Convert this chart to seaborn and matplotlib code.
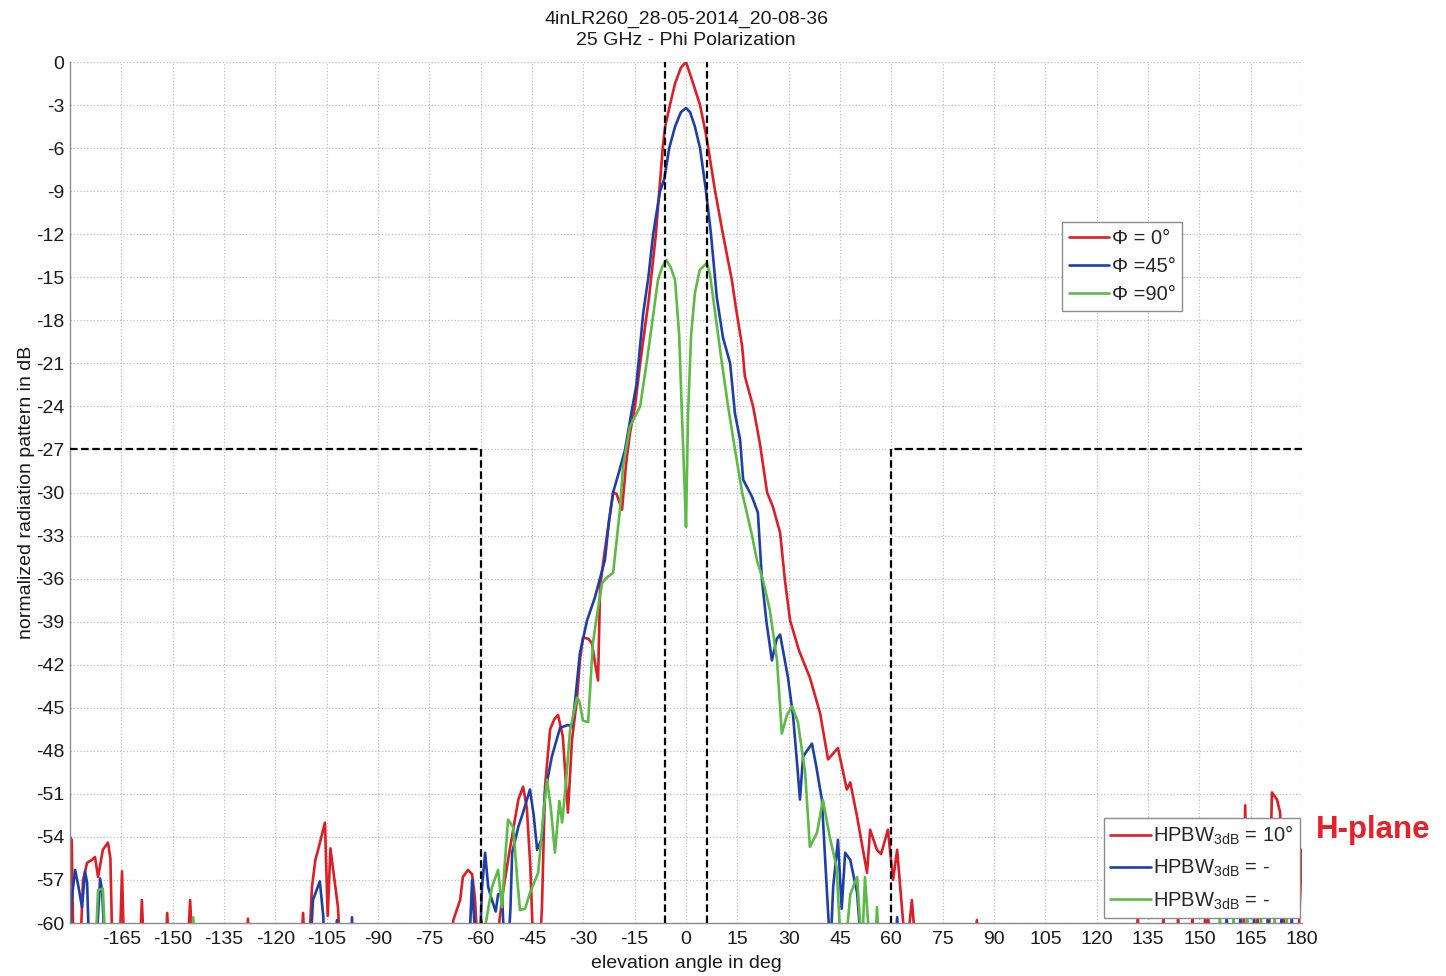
import matplotlib
matplotlib.use("Agg")
import matplotlib.pyplot as plt
import seaborn as sns
from matplotlib.lines import Line2D

# ---------------- data ----------------
title_text = "4inLR260_28-05-2014_20-08-36\n25 GHz - Phi Polarization"
x_label = "elevation angle in deg"
y_label = "normalized radiation pattern in dB"

xtick_vals = list(range(-165, 181, 15))
ytick_vals = list(range(0, -61, -3))

series_labels = ["\u03a6 = 0\u00b0", "\u03a6 =45\u00b0", "\u03a6 =90\u00b0"]
hpbw_labels = ["HPBW$_{3dB}$ = 10\u00b0", "HPBW$_{3dB}$ = -", "HPBW$_{3dB}$ = -"]
plane_text = "H-plane"

# Phi = 0 deg (red)
red_x = [-180, -179.5, -179.0, -177.0, -176.2, -175.0, -173.6, -172.7, -171.8, -170.4,
         -168.9, -168.2, -167.6, -165.5, -164.8, -164.2, -159.6, -159.0, -158.4, -152.1,
         -151.6, -151.1, -145.6, -144.9, -144.2, -128.6, -128.0, -127.4, -112.5, -111.9,
         -111.3, -110.2, -109.3, -108.3, -107.5, -105.5, -104.7, -103.9, -103.0, -101.7,
         -101.0, -68.8, -68.0, -66.0, -65.2, -63.7, -62.5, -61.7, -60.8, -59.8,
         -58.6, -55.5, -54.5, -53.5, -52.0, -50.5, -49.0, -47.6, -46.5, -45.5,
         -44.6, -42.8, -42.1, -41.2, -39.7, -38.5, -37.4, -36.0, -34.5, -33.3,
         -31.9, -31.0, -30.1, -28.5, -27.5, -26.5, -25.7, -25.1, -24.0, -22.5,
         -21.3, -20.3, -18.7, -17.5, -16.4, -14.9, -13.4, -12.0, -10.8, -8.8,
         -7.8, -6.8, -6.1, -4.7, -3.2, -1.5, 0.0, 2.1, 4.1, 5.8,
         6.5, 8.5, 10.8, 13.4, 14.5, 16.4, 17.2, 19.6, 21.6, 23.7,
         25.4, 27.5, 28.9, 30.4, 33.0, 36.2, 39.2, 41.5, 44.4, 47.0,
         48.0, 50.0, 52.9, 53.8, 55.8, 57.0, 59.0, 60.5, 61.7, 63.4,
         64.5, 66.0, 67.2, 84.4, 85.0, 85.6, 131.5, 132.0, 132.5, 139.0,
         139.5, 140.0, 143.3, 143.8, 144.3, 147.5, 148.0, 148.5, 151.3, 151.7,
         152.1, 152.6, 153.0, 162.8, 163.4, 164.0, 166.5, 167.0, 167.5, 170.3,
         171.2, 172.7, 173.6, 175.0, 178.8, 180.0]
red_y = [-54.0, -54.2, -62, -62, -57.0, -55.8, -55.6, -55.4, -56.8, -54.9,
         -54.4, -55.5, -62, -62, -56.4, -62, -62, -58.4, -62, -62,
         -59.3, -62, -62, -58.4, -62, -62, -59.7, -62, -62, -59.3,
         -62, -62, -57.5, -55.6, -54.9, -53.0, -59.5, -54.8, -56.5, -58.9,
         -62, -62, -59.8, -58.4, -56.8, -56.3, -56.6, -58.2, -62, -59.8,
         -62, -62, -59.8, -57.9, -55.6, -53.5, -51.4, -50.5, -52.0, -56.0,
         -62, -62, -59.0, -50.5, -46.5, -45.8, -45.5, -47.0, -52.3, -47.2,
         -44.5, -41.7, -40.1, -40.2, -40.5, -42.0, -43.1, -36.6, -34.5, -32.0,
         -30.0, -30.1, -31.2, -28.0, -25.9, -24.0, -21.0, -18.5, -16.4, -12.0,
         -9.0, -6.0, -4.5, -3.0, -1.5, -0.4, 0.0, -1.5, -3.0, -5.0,
         -6.0, -9.0, -12.0, -15.2, -17.0, -19.8, -21.9, -24.0, -26.6, -30.0,
         -31.0, -32.8, -36.1, -38.9, -41.0, -42.9, -45.4, -48.6, -47.8, -50.7,
         -50.2, -52.6, -56.5, -53.5, -54.9, -55.2, -53.5, -57.0, -54.9, -59.8,
         -62, -58.4, -62, -62, -59.8, -62, -62, -59.5, -62, -62,
         -59.5, -62, -62, -59.5, -62, -62, -59.5, -62, -62, -59.5,
         -62, -59.5, -62, -62, -51.8, -62, -62, -59.5, -62, -62,
         -50.9, -51.4, -52.3, -62, -62, -54.9]

# Phi = 45 deg (blue)
blue_x = [-180, -179.6, -178.5, -177.5, -176.5, -175.6, -175.0, -174.4, -172.4, -171.2,
          -170.6, -169.8, -109.8, -109.0, -107.0, -106.0, -105.6, -102.5, -102.0, -101.5,
          -98.0, -97.6, -97.2, -63.4, -62.5, -62.2, -61.3, -60.3, -59.6, -58.7,
          -57.8, -56.7, -55.6, -54.9, -53.8, -53.0, -52.0, -51.3, -50.8, -49.0,
          -47.6, -45.6, -44.5, -43.5, -42.1, -41.2, -39.2, -36.8, -34.5, -33.3,
          -32.4, -31.0, -28.9, -26.6, -23.7, -22.5, -21.3, -19.5, -17.8, -16.0,
          -14.5, -13.5, -12.5, -11.0, -9.6, -7.6, -6.4, -4.9, -3.2, -1.5,
          0.0, 1.2, 2.6, 4.1, 5.8, 7.3, 9.0, 10.8, 12.9, 14.3,
          15.8, 16.7, 19.3, 21.0, 22.2, 23.5, 25.1, 26.5, 27.5, 29.8,
          31.3, 32.5, 33.3, 34.2, 36.8, 38.0, 39.7, 41.2, 42.2, 43.0,
          44.4, 45.5, 46.5, 48.0, 50.0, 51.3, 61.1, 61.7, 62.3, 157.6,
          158.0, 158.4, 161.6, 162.0, 162.4, 165.6, 166.0, 166.4, 169.6, 170.0,
          170.4, 173.6, 174.0, 174.4, 176.6, 177.0, 177.4, 180.0]
blue_y = [-62, -58.5, -56.3, -57.5, -58.9, -56.4, -57.2, -62, -62, -56.9,
          -57.8, -62, -62, -58.4, -57.1, -59.5, -62, -62, -59.8, -62,
          -62, -59.6, -62, -62, -57.0, -58.6, -62, -62, -57.5, -55.1,
          -57.5, -58.4, -59.2, -58.0, -57.9, -62, -62, -59.0, -55.1, -53.3,
          -52.3, -50.7, -52.5, -54.9, -54.1, -50.9, -48.4, -46.4, -46.2, -46.3,
          -44.5, -41.2, -38.9, -37.3, -34.7, -32.0, -30.0, -28.5, -27.0, -24.5,
          -22.5, -20.0, -17.5, -15.0, -12.0, -9.0, -8.2, -6.0, -4.5, -3.5,
          -3.2, -3.5, -4.5, -6.0, -8.9, -12.0, -16.4, -19.2, -21.0, -24.5,
          -26.3, -29.1, -30.3, -31.4, -36.1, -39.0, -41.7, -40.2, -39.9, -42.9,
          -45.6, -49.0, -51.4, -48.4, -47.5, -49.0, -51.4, -57.9, -62, -57.5,
          -54.2, -59.0, -55.1, -55.6, -57.9, -62, -62, -59.6, -62, -62,
          -59.5, -62, -62, -59.5, -62, -62, -59.5, -62, -62, -59.5,
          -62, -62, -59.5, -62, -62, -59.5, -62, -62]

# Phi = 90 deg (green)
green_x = [-180, -172.6, -171.8, -170.4, -169.6, -144.5, -144.0, -143.5, -59.6, -58.5,
           -56.7, -54.9, -53.8, -53.0, -52.0, -50.5, -49.3, -48.5, -47.0, -45.6,
           -43.2, -41.5, -40.6, -39.5, -38.3, -37.0, -36.2, -35.0, -33.9, -31.9,
           -31.2, -30.1, -28.6, -27.2, -26.0, -24.5, -23.0, -21.3, -19.3, -18.4,
           -16.4, -13.4, -11.4, -8.2, -7.0, -5.8, -4.5, -3.2, -2.0, -1.2,
           -0.5, 0.0, 0.6, 1.5, 2.6, 4.0, 6.1, 7.0, 7.9, 10.5,
           12.3, 14.3, 16.4, 19.3, 20.7, 22.5, 24.5, 26.6, 28.0, 29.5,
           31.0, 32.7, 34.8, 36.2, 38.3, 40.0, 42.0, 44.0, 45.3, 46.5,
           48.0, 50.0, 51.4, 52.3, 53.8, 55.3, 55.8, 56.5, 155.6, 156.0,
           156.4, 159.6, 160.0, 160.4, 163.6, 164.0, 164.4, 167.6, 168.0, 168.4,
           171.6, 172.0, 172.4, 175.1, 175.5, 175.9, 180.0]
green_y = [-62, -62, -57.7, -57.6, -62, -62, -59.6, -62, -62, -60.0,
           -57.5, -56.3, -58.9, -56.0, -52.8, -53.3, -57.0, -59.1, -59.0, -57.9,
           -56.5, -52.0, -50.0, -52.0, -55.1, -51.5, -53.0, -50.0, -46.6, -44.3,
           -44.5, -45.9, -46.0, -40.5, -38.5, -36.3, -35.9, -35.6, -31.2, -28.2,
           -25.4, -24.0, -20.8, -15.2, -14.3, -13.8, -14.3, -15.2, -19.0, -24.5,
           -29.0, -32.4, -24.5, -19.0, -16.1, -14.5, -14.0, -14.8, -16.4, -21.0,
           -24.0, -27.0, -30.0, -33.0, -34.7, -36.1, -38.2, -41.7, -46.8, -45.5,
           -44.9, -46.0, -49.5, -54.7, -53.7, -51.4, -54.0, -56.1, -62, -62,
           -58.0, -56.8, -62, -56.8, -62, -62, -58.9, -62, -62, -59.5,
           -62, -62, -59.5, -62, -62, -59.5, -62, -62, -59.5, -62,
           -62, -59.5, -62, -62, -59.5, -62, -62]

# spectrum mask (dashed black)
mask_left_x = [-180, -60, -60]
mask_left_y = [-27, -27, -60]
mask_right_x = [180, 60, 60]
mask_right_y = [-27, -27, -60]
beam_marks_x = [-6, 6]

# ---------------- style ----------------
RED = "#dc1f26"
BLUE = "#1f3fa8"
GREEN = "#5cbb46"
GREY = "#8c8c8c"

sns.set_theme(style="white")
plt.rcParams["font.family"] = ["Liberation Sans", "DejaVu Sans"]
plt.rcParams["mathtext.default"] = "regular"
plt.rcParams["axes.unicode_minus"] = False

fig = plt.figure(figsize=(14.46, 9.76), dpi=100)
ax = fig.add_axes([0.04841, 0.0543, 0.85201, 0.88217])

ax.grid(True, linestyle=":", color="#bcbcbc", linewidth=0.9)
ax.set_axisbelow(True)

LW = 1.9
for xs, ys, c in [(red_x, red_y, RED), (blue_x, blue_y, BLUE), (green_x, green_y, GREEN)]:
    sns.lineplot(x=xs, y=ys, ax=ax, color=c, linewidth=LW,
                 estimator=None, sort=False, legend=False)

dash = (0, (3.4, 1.6))
ax.plot(mask_left_x, mask_left_y, color="black", linestyle=dash, linewidth=1.6, zorder=4)
ax.plot(mask_right_x, mask_right_y, color="black", linestyle=dash, linewidth=1.6, zorder=4)
ax.vlines(beam_marks_x, -60, 0, colors="black", linestyles=dash, linewidth=1.6, zorder=4)

ax.set_xlim(-180, 180)
ax.set_ylim(-60, 0)
ax.set_xticks(xtick_vals)
ax.set_xticklabels([str(v) for v in xtick_vals])
ax.set_yticks(ytick_vals)
ax.set_yticklabels([str(v) for v in ytick_vals])
ax.tick_params(axis="both", direction="in", length=5, width=1, color=GREY,
               labelsize=14, labelcolor="#1a1a1a")
ax.tick_params(axis="x", pad=6)
ax.tick_params(axis="y", pad=4)

for s in ["top", "right"]:
    ax.spines[s].set_visible(False)
for s in ["left", "bottom"]:
    ax.spines[s].set_color(GREY)
    ax.spines[s].set_linewidth(1.0)

ax.set_title(title_text, fontsize=14, pad=12, color="#1a1a1a", linespacing=1.3)
ax.set_xlabel(x_label, fontsize=14, labelpad=5, color="#1a1a1a")
ax.set_ylabel(y_label, fontsize=14, labelpad=1, color="#1a1a1a")

handles = [Line2D([], [], color=c, linewidth=LW) for c in (RED, BLUE, GREEN)]
leg1 = ax.legend(handles=handles, labels=series_labels, loc="upper left",
                 bbox_to_anchor=(0.805, 0.814), fontsize=14.5, frameon=True,
                 fancybox=False, edgecolor=GREY, framealpha=1, handlelength=2.0,
                 handletextpad=0.12, labelspacing=0.45, borderpad=0.35,
                 borderaxespad=0)
leg1.get_frame().set_linewidth(1.0)
ax.add_artist(leg1)

leg2 = ax.legend(handles=handles, labels=hpbw_labels, loc="lower right",
                 bbox_to_anchor=(0.998, 0.006), fontsize=14.5, frameon=True,
                 fancybox=False, edgecolor=GREY, framealpha=1, handlelength=2.0,
                 handletextpad=0.12, labelspacing=0.55, borderpad=0.3,
                 borderaxespad=0)
leg2.get_frame().set_linewidth(1.0)

fig.text(1316 / 1446, 1 - 830 / 976, plane_text, color="#e8202a", fontsize=22.5,
         fontweight="bold", ha="left", va="center")

fig.savefig("out.png", dpi=100)
